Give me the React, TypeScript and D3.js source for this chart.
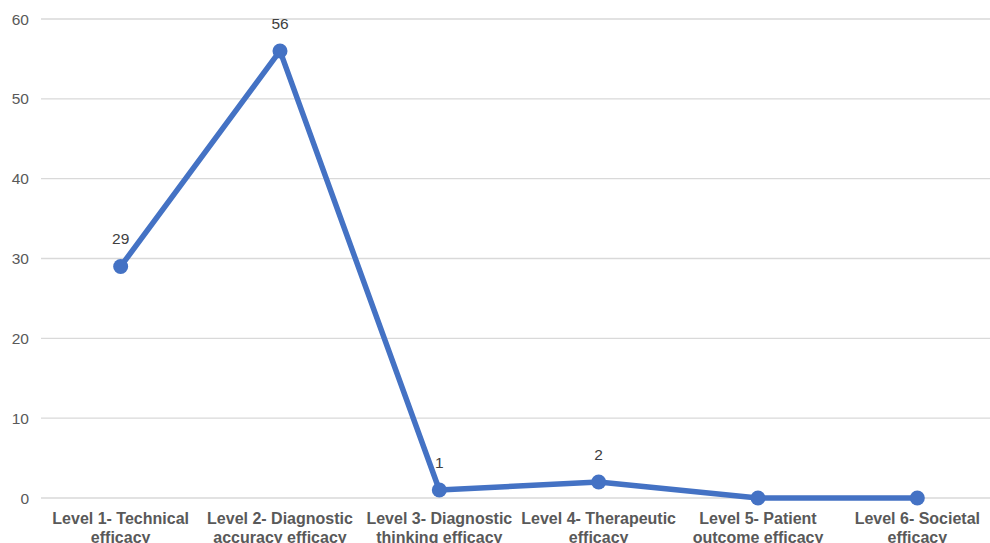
import React from 'react';
import * as d3 from 'd3';

const categories = [
  ['Level 1- Technical', 'efficacy'],
  ['Level 2- Diagnostic', 'accuracy efficacy'],
  ['Level 3- Diagnostic', 'thinking efficacy'],
  ['Level 4- Therapeutic', 'efficacy'],
  ['Level 5- Patient', 'outcome efficacy'],
  ['Level 6- Societal', 'efficacy'],
];
const values = [29, 56, 1, 2, 0, 0];
const labelled = [true, true, true, true, false, false];
const yTicks = [0, 10, 20, 30, 40, 50, 60];

const width = 990;
const height = 543;
const margin = { top: 19, right: -7, bottom: 45, left: 41 };

const App: React.FC = () => {
  const x = d3
    .scaleBand<number>()
    .domain(values.map((_, i) => i))
    .range([margin.left, width - margin.right]);

  const y = d3
    .scaleLinear()
    .domain([0, 60])
    .range([height - margin.bottom, margin.top]);

  const cx = (i: number) => (x(i) as number) + x.bandwidth() / 2;

  const line = d3
    .line<number>()
    .x((_, i) => cx(i))
    .y((d) => y(d));

  const font = '"Liberation Sans", Arial, sans-serif';

  return (
    <svg
      width={width}
      height={height}
      style={{ position: 'fixed', left: 0, top: 0, background: '#fff', display: 'block' }}
      fontFamily={font}
    >
      {/* Gridlines */}
      {yTicks.map((t) => (
        <line
          key={`g${t}`}
          x1={margin.left}
          x2={width - margin.right}
          y1={y(t)}
          y2={y(t)}
          stroke="#d9d9d9"
          strokeWidth={1.3}
        />
      ))}
      {/* Y tick labels */}
      {yTicks.map((t) => (
        <text
          key={`t${t}`}
          x={29}
          y={y(t)}
          dy="0.36em"
          textAnchor="end"
          fontSize={15.5}
          fill="#595959"
        >
          {t}
        </text>
      ))}
      {/* Category labels */}
      {categories.map((lines, i) => (
        <text
          key={`c${i}`}
          x={cx(i)}
          textAnchor="middle"
          fontSize={16}
          fontWeight="bold"
          fill="#595959"
        >
          {lines.map((l, j) => (
            <tspan key={j} x={cx(i)} y={524 + j * 18.5}>
              {l}
            </tspan>
          ))}
        </text>
      ))}
      {/* Line */}
      <path
        d={line(values) ?? ''}
        fill="none"
        stroke="#4472c4"
        strokeWidth={5.5}
        strokeLinejoin="round"
      />
      {values.map((v, i) => (
        <circle key={`p${i}`} cx={cx(i)} cy={y(v)} r={7.5} fill="#4472c4" />
      ))}
      {/* Data labels */}
      {values.map((v, i) =>
        labelled[i] ? (
          <text
            key={`l${i}`}
            x={cx(i)}
            y={y(v) - 22}
            textAnchor="middle"
            fontSize={15.5}
            fill="#404040"
          >
            {v}
          </text>
        ) : null
      )}
    </svg>
  );
};

export default App;
